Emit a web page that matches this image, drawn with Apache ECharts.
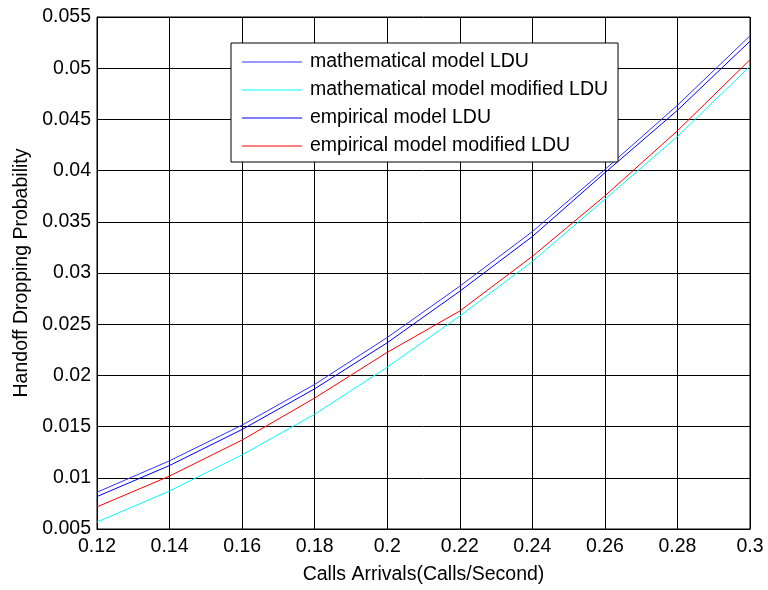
<!DOCTYPE html>
<html>
<head>
<meta charset="utf-8">
<script src="https://cdn.jsdelivr.net/npm/echarts@6/dist/echarts.min.js"></script>
<style>
  html, body { margin: 0; padding: 0; background: #fff; }
  #chart { width: 768px; height: 590px; }
</style>
</head>
<body>
<div id="chart"></div>
<script>
// 呼叫到达率 (x 轴)
const arrivals = [0.12, 0.14, 0.16, 0.18, 0.20, 0.22, 0.24, 0.26, 0.28, 0.30];

// 四条曲线
const mathLDU        = [0.00859, 0.01166, 0.01515, 0.01912, 0.02370, 0.02871, 0.03404, 0.04011, 0.04638, 0.05316];
const mathModLDU     = [0.00568, 0.00871, 0.01224, 0.01621, 0.02080, 0.02580, 0.03113, 0.03720, 0.04334, 0.05019];
const empLDU         = [0.00817, 0.01120, 0.01472, 0.01869, 0.02319, 0.02822, 0.03356, 0.03979, 0.04589, 0.05264];
const empModLDU      = [0.00716, 0.01017, 0.01369, 0.01779, 0.02225, 0.02629, 0.03162, 0.03753, 0.04389, 0.05083];

const seriesNames = [
    'mathematical model LDU',
    'mathematical model modified LDU',
    'empirical model LDU',
    'empirical model modified LDU'
];
const seriesColors = ['#3333ff', '#00ffff', '#0000ff', '#ff0000'];

function toPairs(ys){
    let arr = [];
    for(let i = 0; i < arrivals.length; i++){
        arr.push([arrivals[i], ys[i]]);
    }
    return arr;
}

function fmt(v){
    return String(+v.toFixed(4));
}

let chart = echarts.init(document.getElementById('chart'));
const font = 'Liberation Sans, Arial, sans-serif';
const fs = 19.5;

let allData = [mathLDU, mathModLDU, empLDU, empModLDU];
let series = [];
for(let i = 0; i < allData.length; i++){
    series.push({
        name: seriesNames[i],
        type: 'line',
        data: toPairs(allData[i]),
        symbol: 'none',
        smooth: false,
        lineStyle: { color: seriesColors[i], width: 1 },
        itemStyle: { color: seriesColors[i] },
        z: 3
    });
}

let option = {
    animation: false,
    backgroundColor: '#fff',
    grid: {
        left: 97,
        right: 18,
        top: 17,
        bottom: 57,
        show: true,
        borderColor: '#000',
        borderWidth: 1
    },
    legend: {
        orient: 'vertical',
        left: 231,
        top: 43,
        data: seriesNames,
        icon: 'rect',
        itemWidth: 60,
        itemHeight: 1,
        itemGap: 8,
        padding: [9, 10, 6, 11],
        backgroundColor: '#fff',
        borderColor: '#000',
        borderWidth: 1,
        textStyle: { fontFamily: font, fontSize: fs, lineHeight: 20, color: '#000', padding: [0, 0, 0, 3] }
    },
    xAxis: {
        type: 'value',
        min: 0.12,
        max: 0.3,
        interval: 0.02,
        name: 'Calls Arrivals(Calls/Second)',
        nameLocation: 'middle',
        nameGap: 36,
        nameTextStyle: { fontFamily: font, fontSize: fs, color: '#000' },
        axisLine: { show: true, lineStyle: { color: '#000' } },
        axisTick: { show: false },
        axisLabel: { formatter: fmt, fontFamily: font, fontSize: fs, color: '#000', margin: 8 },
        splitLine: { show: true, lineStyle: { color: '#000', width: 1 } }
    },
    yAxis: {
        type: 'value',
        min: 0.005,
        max: 0.055,
        interval: 0.005,
        name: 'Handoff Dropping Probability',
        nameLocation: 'middle',
        nameGap: 65,
        nameTextStyle: { fontFamily: font, fontSize: fs, color: '#000' },
        axisLine: { show: true, lineStyle: { color: '#000' } },
        axisTick: { show: false },
        axisLabel: { formatter: fmt, fontFamily: font, fontSize: fs, color: '#000', margin: 6 },
        splitLine: { show: true, lineStyle: { color: '#000', width: 1 } }
    },
    series: series
};

chart.setOption(option);
</script>
</body>
</html>
